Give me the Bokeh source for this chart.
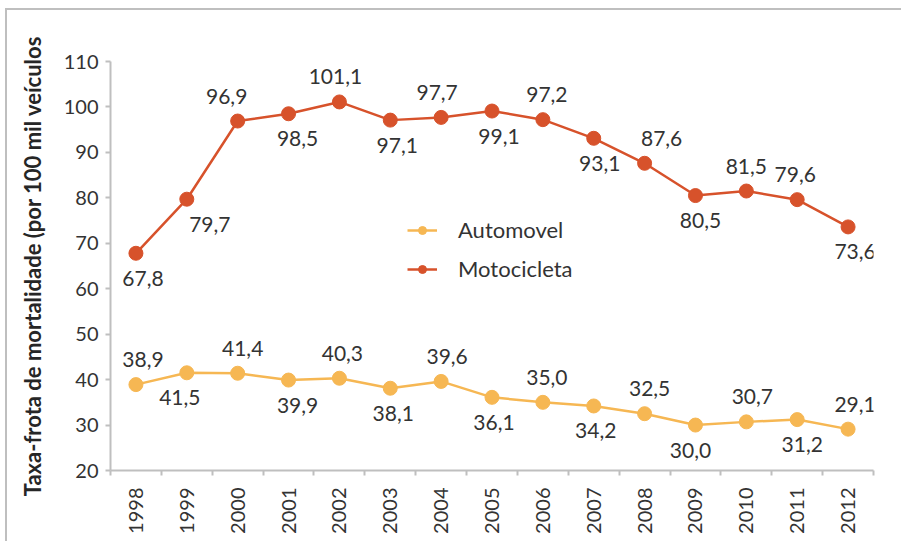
import math
from bokeh.plotting import figure
from bokeh.models import (ColumnDataSource, Range1d, FixedTicker, Legend, LegendItem)
from bokeh.core.properties import value
from bokeh.embed import file_html
from bokeh.resources import INLINE

# ---- data ----
years = ["1998", "1999", "2000", "2001", "2002", "2003", "2004", "2005",
         "2006", "2007", "2008", "2009", "2010", "2011", "2012"]
automovel = [38.9, 41.5, 41.4, 39.9, 40.3, 38.1, 39.6, 36.1, 35.0, 34.2,
             32.5, 30.0, 30.7, 31.2, 29.1]
motocicleta = [67.8, 79.7, 96.9, 98.5, 101.1, 97.1, 97.7, 99.1, 97.2, 93.1,
               87.6, 80.5, 81.5, 79.6, 73.6]
y_ticks = [20, 30, 40, 50, 60, 70, 80, 90, 100, 110]

# label placement (style): 1 = above point, -1 = below point; horizontal nudges
auto_side = [1, -1, 1, -1, 1, -1, 1, -1, 1, -1, 1, -1, 1, -1, 1]
moto_side = [-1, -1, 1, -1, 1, -1, 1, -1, 1, -1, 1, -1, 1, 1, -1]
auto_dx = [7, -7, 5, 9, 3, 3, 6, 2, 4, 2, 5, -5, 6, 5, 7]
moto_dx = [7, 23, -11, 9, -4, 7, -4, 7, 4, 6, 17, 5, 0, -2, 7]

AUTO_C = "#F6B753"
MOTO_C = "#D7522B"
TXT_C = "#333333"
AX_C = "#BFBFBF"
FONT = "Lato"

xs = list(range(len(years)))

def fmt(v):
    return f"{v:.1f}".replace(".", ",")

auto_src = ColumnDataSource(dict(
    x=xs, y=automovel, lbl=[fmt(v) for v in automovel],
    dy=[-25 * s for s in auto_side], dx=auto_dx))
moto_src = ColumnDataSource(dict(
    x=xs, y=motocicleta, lbl=[fmt(v) for v in motocicleta],
    dy=[-25 * s for s in moto_side], dx=moto_dx))

p = figure(width=896, height=533, output_backend="svg", toolbar_location=None,
           x_range=Range1d(-0.5, len(years) - 0.5), y_range=Range1d(20, 110),
           min_border_left=103, min_border_top=51, min_border_right=30,
           min_border_bottom=73)
p.styles = {"border-top": "2px solid #BFBFBF", "border-left": "2px solid #BFBFBF",
            "margin-top": "8px", "margin-left": "5px"}
p.outline_line_color = None
p.xgrid.grid_line_color = None
p.ygrid.grid_line_color = None
p.background_fill_color = "white"

# lines + markers
la = p.line("x", "y", source=auto_src, line_color=AUTO_C, line_width=2.5)
ca = p.scatter("x", "y", source=auto_src, size=14, fill_color=AUTO_C, line_color=AUTO_C)
lm = p.line("x", "y", source=moto_src, line_color=MOTO_C, line_width=2.5)
cm = p.scatter("x", "y", source=moto_src, size=14, fill_color=MOTO_C, line_color=MOTO_C)

# data labels
for src in (auto_src, moto_src):
    p.text("x", "y", text="lbl", source=src, x_offset="dx", y_offset="dy",
           text_align="center", text_baseline="middle",
           text_font=value(FONT), text_font_size="21px", text_color=TXT_C)

# y axis
yax = p.yaxis[0]
yax.ticker = FixedTicker(ticks=y_ticks)
yax.axis_line_color = AX_C
yax.axis_line_width = 2
yax.major_tick_line_color = AX_C
yax.major_tick_line_width = 2
yax.major_tick_out = 5
yax.major_tick_in = 0
yax.minor_tick_line_color = None
yax.major_label_text_font = FONT
yax.major_label_text_font_size = "20px"
yax.major_label_text_color = TXT_C
yax.major_label_standoff = 7
yax.axis_label = "Taxa-frota de mortalidade (por 100 mil veículos"
yax.axis_label_text_font = FONT
yax.axis_label_text_font_style = "bold"
yax.axis_label_text_font_size = "22px"
yax.axis_label_text_color = "#262626"
yax.axis_label_standoff = 15

# x axis: labels at category centres, ticks at category boundaries
xax = p.xaxis[0]
xax.ticker = FixedTicker(ticks=xs, minor_ticks=[i - 0.5 for i in range(len(years) + 1)])
xax.major_label_overrides = {i: y for i, y in zip(xs, years)}
xax.major_label_orientation = math.pi / 2
xax.axis_line_color = AX_C
xax.axis_line_width = 2
xax.major_tick_line_color = None
xax.major_tick_out = 0
xax.major_tick_in = 0
xax.minor_tick_line_color = AX_C
xax.minor_tick_line_width = 2
xax.minor_tick_out = 5
xax.minor_tick_in = 0
xax.major_label_text_font = FONT
xax.major_label_text_font_size = "20px"
xax.major_label_text_color = TXT_C
xax.major_label_standoff = 12

legend = Legend(items=[LegendItem(label="Automovel", renderers=[la, ca]),
                       LegendItem(label="Motocicleta", renderers=[lm, cm])],
                location=(297, 188), border_line_color=None,
                background_fill_alpha=0, padding=0, margin=0,
                glyph_width=30, glyph_height=20, label_height=20,
                spacing=12, label_standoff=21,
                label_text_font=FONT, label_text_font_size="22px",
                label_text_color=TXT_C)
p.add_layout(legend, "center")

open("out.html", "w").write(file_html(p, INLINE))
